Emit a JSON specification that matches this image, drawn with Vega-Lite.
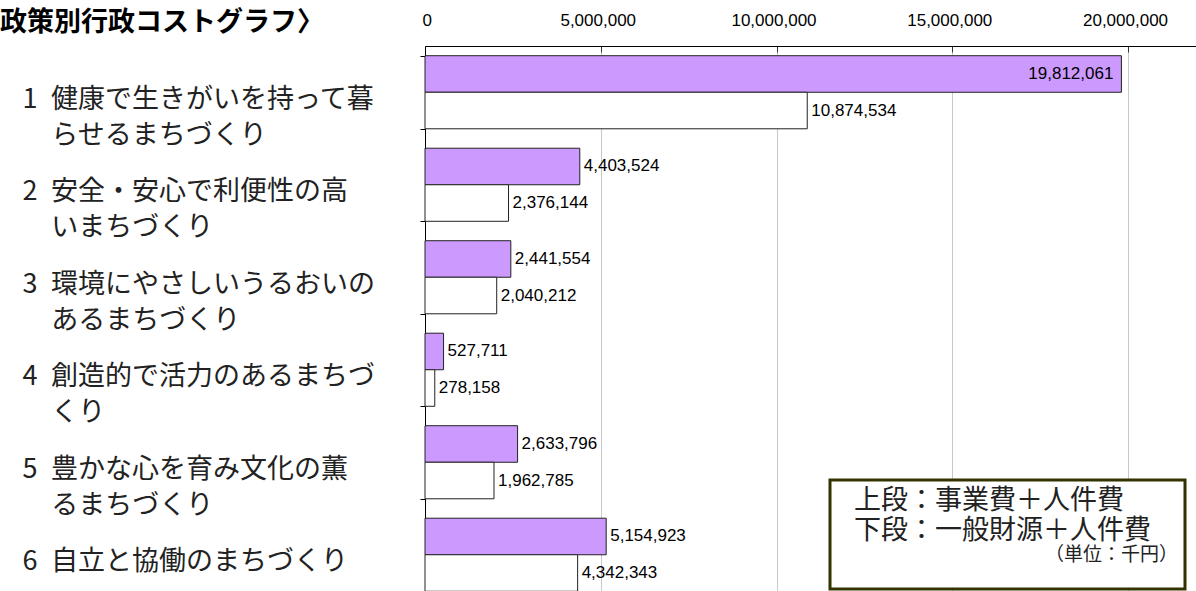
{
  "$schema": "https://vega.github.io/schema/vega-lite/v6.json",
  "width": 771,
  "height": 545,
  "autosize": "none",
  "padding": {"left": 425, "top": 46, "right": 0, "bottom": 0},
  "background": "white",
  "title": {
    "text": "政策別行政コストグラフ〉",
    "anchor": "start",
    "frame": "group",
    "dx": -425,
    "dy": 30,
    "font": "Noto Sans CJK JP",
    "fontSize": 27,
    "fontWeight": "bold",
    "color": "black"
  },
  "config": {"view": {"stroke": null}, "legend": {"strokeWidth": 3}},
  "data": {
    "values": [
      {"policy": "1\u2002健康で生きがいを持って暮\n\u200B\u3000\u200Aらせるまちづくり", "series": "上段：事業費＋人件費", "value": 19812061},
      {"policy": "1\u2002健康で生きがいを持って暮\n\u200B\u3000\u200Aらせるまちづくり", "series": "下段：一般財源＋人件費", "value": 10874534},
      {"policy": "2\u2002安全・安心で利便性の高\n\u200B\u3000\u200Aいまちづくり", "series": "上段：事業費＋人件費", "value": 4403524},
      {"policy": "2\u2002安全・安心で利便性の高\n\u200B\u3000\u200Aいまちづくり", "series": "下段：一般財源＋人件費", "value": 2376144},
      {"policy": "3\u2002環境にやさしいうるおいの\n\u200B\u3000\u200Aあるまちづくり", "series": "上段：事業費＋人件費", "value": 2441554},
      {"policy": "3\u2002環境にやさしいうるおいの\n\u200B\u3000\u200Aあるまちづくり", "series": "下段：一般財源＋人件費", "value": 2040212},
      {"policy": "4\u2002創造的で活力のあるまちづ\n\u200B\u3000\u200Aくり", "series": "上段：事業費＋人件費", "value": 527711},
      {"policy": "4\u2002創造的で活力のあるまちづ\n\u200B\u3000\u200Aくり", "series": "下段：一般財源＋人件費", "value": 278158},
      {"policy": "5\u2002豊かな心を育み文化の薫\n\u200B\u3000\u200Aるまちづくり", "series": "上段：事業費＋人件費", "value": 2633796},
      {"policy": "5\u2002豊かな心を育み文化の薫\n\u200B\u3000\u200Aるまちづくり", "series": "下段：一般財源＋人件費", "value": 1962785},
      {"policy": "6\u2002自立と協働のまちづくり", "series": "上段：事業費＋人件費", "value": 5154923},
      {"policy": "6\u2002自立と協働のまちづくり", "series": "下段：一般財源＋人件費", "value": 4342343}
    ]
  },
  "encoding": {
    "y": {
      "field": "policy",
      "type": "nominal",
      "sort": null,
      "scale": {"range": [0, 555], "paddingInner": 0.21, "paddingOuter": 0.105},
      "axis": {
        "title": null,
        "domainColor": "black",
        "tickColor": "black",
        "tickBand": "extent",
        "tickSize": 5,
        "labelAlign": "left",
        "labelBaseline": "top",
        "labelPadding": 398,
        "labelOffset": -6,
        "labelFont": "Noto Sans CJK JP",
        "labelFontSize": 27,
        "labelLineHeight": 36,
        "labelColor": "#222222",
        "labelLimit": 420,
        "labelExpr": "split(datum.label, '\\n')"
      }
    },
    "yOffset": {
      "field": "series",
      "type": "nominal",
      "sort": ["上段：事業費＋人件費", "下段：一般財源＋人件費"],
      "scale": {"paddingInner": 0, "paddingOuter": 0}
    },
    "x": {
      "field": "value",
      "type": "quantitative",
      "scale": {"domain": [0, 21934000], "nice": false, "zero": true},
      "axis": {
        "orient": "top",
        "title": null,
        "values": [0, 5000000, 10000000, 15000000, 20000000],
        "format": ",.0f",
        "domainColor": "black",
        "tickColor": "#333333",
        "tickSize": -6,
        "labelPadding": 23,
        "labelOffset": -3,
        "labelFont": "Liberation Sans",
        "labelFontSize": 17,
        "labelColor": "black",
        "grid": true,
        "gridColor": "#c8c8c8",
        "gridWidth": 1
      }
    }
  },
  "layer": [
    {
      "mark": {"type": "bar", "stroke": "#222222", "strokeWidth": 1},
      "encoding": {
        "color": {
          "field": "series",
          "type": "nominal",
          "scale": {"domain": ["上段：事業費＋人件費", "下段：一般財源＋人件費"], "range": ["#CC99FF", "#FFFFFF"]},
          "legend": {
            "orient": "none",
            "legendX": 405,
            "legendY": 434,
            "title": ["（単位：千円）", "\u3000\u200B"],
            "titleOrient": "bottom",
            "titleAnchor": "end",
            "titleFont": "Noto Sans CJK JP",
            "titleFontSize": 19,
            "titleLineHeight": 17,
            "titleFontWeight": "normal",
            "titleColor": "#222222",
            "titlePadding": 2,
            "labelFont": "Noto Sans CJK JP",
            "labelFontSize": 27,
            "labelColor": "#222222",
            "labelLimit": 500,
            "labelOffset": -10,
            "labelExpr": "datum.label + '\u3000\u200B'",
            "symbolSize": 0,
            "symbolOpacity": 0,
            "symbolStrokeWidth": 0,
            "rowPadding": 2,
            "padding": 7,
            "strokeColor": "#333300",
            "fillColor": "white"
          }
        }
      }
    },
    {
      "transform": [{"filter": "datum.value < 15000000"}],
      "mark": {"type": "text", "align": "left", "baseline": "middle", "dx": 4, "font": "Liberation Sans", "fontSize": 17, "color": "black"},
      "encoding": {"text": {"field": "value", "type": "quantitative", "format": ","}}
    },
    {
      "transform": [{"filter": "datum.value >= 15000000"}],
      "mark": {"type": "text", "align": "right", "baseline": "middle", "dx": -8, "font": "Liberation Sans", "fontSize": 17, "color": "black"},
      "encoding": {"text": {"field": "value", "type": "quantitative", "format": ","}}
    }
  ]
}
